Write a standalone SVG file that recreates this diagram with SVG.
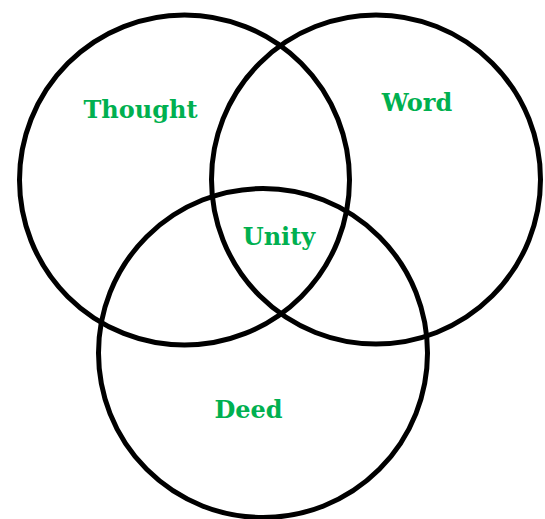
<svg xmlns="http://www.w3.org/2000/svg" width="545" height="519" viewBox="0 0 545 519">
<style>
.c{fill:none;stroke:#000;stroke-width:5}
.t{font-family:"DejaVu Serif","Liberation Serif",serif;font-weight:bold;font-size:24px;fill:#00B050;text-anchor:middle}
</style>
<rect width="545" height="519" fill="#fff"/>
<g id="thought"><circle class="c" cx="184.5" cy="180" r="165"/></g>
<g id="word"><circle class="c" cx="376" cy="179.5" r="164.5"/></g>
<g id="deed"><circle class="c" cx="263" cy="353" r="164.5"/></g>
<g id="labels">
<text class="t" x="140.5" y="118">Thought</text>
<text class="t" x="417" y="111">Word</text>
<text class="t" x="279" y="245">Unity</text>
<text class="t" x="248.5" y="418">Deed</text>
</g>
</svg>
